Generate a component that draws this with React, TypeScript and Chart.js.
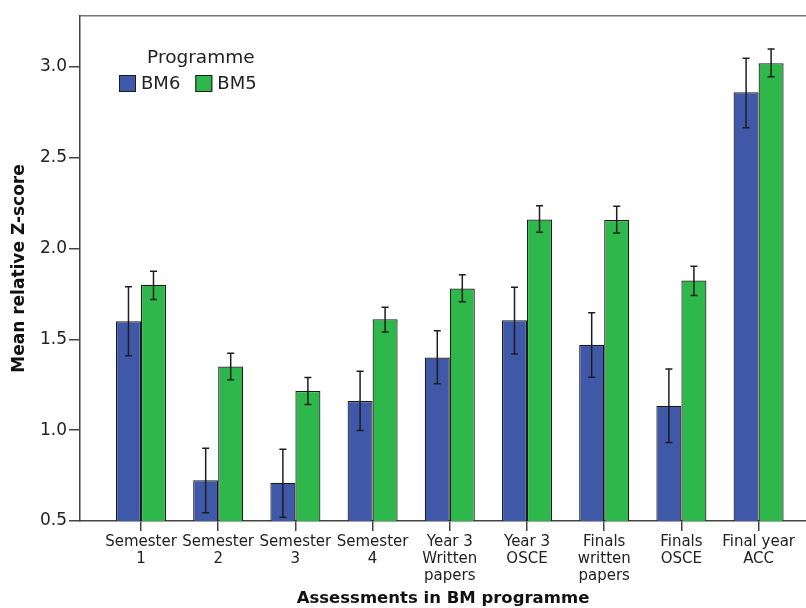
import React, { useEffect, useRef } from "react";
import { Chart, registerables } from "chart.js";

Chart.register(...registerables);

const categories: string[][] = [
  ["Semester", "1"],
  ["Semester", "2"],
  ["Semester", "3"],
  ["Semester", "4"],
  ["Year 3", "Written", "papers"],
  ["Year 3", "OSCE"],
  ["Finals", "written", "papers"],
  ["Finals", "OSCE"],
  ["Final year", "ACC"],
];

const bm6Mean = [1.6, 0.724, 0.71, 1.16, 1.4, 1.605, 1.47, 1.134, 2.86];
const bm6Low = [1.41, 0.546, 0.52, 0.998, 1.255, 1.42, 1.292, 0.932, 2.665];
const bm6High = [1.79, 0.9, 0.895, 1.325, 1.547, 1.787, 1.646, 1.337, 3.048];

const bm5Mean = [1.8, 1.35, 1.216, 1.61, 1.78, 2.16, 2.157, 1.824, 3.02];
const bm5Low = [1.72, 1.277, 1.141, 1.54, 1.707, 2.09, 2.085, 1.742, 2.945];
const bm5High = [1.875, 1.424, 1.29, 1.677, 1.855, 2.236, 2.232, 1.903, 3.099];

const yTicks = [0.5, 1.0, 1.5, 2.0, 2.5, 3.0];

const FONT = "'DejaVu Sans', 'Noto Sans', sans-serif";
const BLUE = "#3f58a8";
const GREEN = "#2eb84b";
const EDGE = "#1c1c1c";

const errorBars = [
  { low: bm6Low, high: bm6High },
  { low: bm5Low, high: bm5High },
];

const errorBarPlugin = {
  id: "errorBars",
  afterDatasetsDraw(chart: any) {
    const ctx = chart.ctx;
    const yScale = chart.scales.y;
    ctx.save();
    ctx.strokeStyle = "#1e1e1e";
    ctx.lineWidth = 1.5;
    chart.data.datasets.forEach((_: any, d: number) => {
      const meta = chart.getDatasetMeta(d);
      const eb = errorBars[d];
      meta.data.forEach((bar: any, i: number) => {
        const x = bar.x;
        const yh = yScale.getPixelForValue(eb.high[i]);
        const yl = yScale.getPixelForValue(eb.low[i]);
        const cap = 3.5;
        ctx.beginPath();
        ctx.moveTo(x, yh);
        ctx.lineTo(x, yl);
        ctx.moveTo(x - cap, yh);
        ctx.lineTo(x + cap, yh);
        ctx.moveTo(x - cap, yl);
        ctx.lineTo(x + cap, yl);
        ctx.stroke();
      });
    });
    ctx.restore();
  },
};

const legendPlugin = {
  id: "innerLegend",
  afterDraw(chart: any) {
    const ctx = chart.ctx;
    const area = chart.chartArea;
    const x0 = area.left + 39;
    const boxTop = area.top + 59;
    const box = 17;
    ctx.save();
    ctx.font = `18px ${FONT}`;
    ctx.textBaseline = "middle";
    ctx.textAlign = "left";
    let x = x0;
    const items = chart.data.datasets.map((ds: any) => ({
      label: ds.label,
      color: ds.backgroundColor,
    }));
    items.forEach((it: any, idx: number) => {
      ctx.fillStyle = it.color;
      ctx.fillRect(x, boxTop, box, box);
      ctx.strokeStyle = EDGE;
      ctx.lineWidth = 1;
      ctx.strokeRect(x + 0.5, boxTop + 0.5, box - 1, box - 1);
      ctx.fillStyle = "#222";
      ctx.fillText(it.label, x + box + 5, boxTop + box / 2 + 1);
      const w = ctx.measureText(it.label).width;
      x += box + 5 + w + (idx < items.length - 1 ? 15 : 0);
    });
    const totalW = x - x0;
    ctx.font = `18.5px ${FONT}`;
    ctx.textAlign = "center";
    ctx.textBaseline = "alphabetic";
    ctx.fillStyle = "#222";
    ctx.fillText("Programme", x0 + totalW / 2 + 13, area.top + 47);
    ctx.restore();
  },
};

export default function App() {
  const canvasRef = useRef<HTMLCanvasElement | null>(null);

  useEffect(() => {
    if (!canvasRef.current) return;
    const chart = new Chart(canvasRef.current, {
      type: "bar",
      data: {
        datasets: [
          {
            label: "BM6",
            data: bm6Mean.map((v, i) => ({ x: i, y: v })),
            backgroundColor: BLUE,
            borderColor: EDGE,
            borderWidth: 1.2,
          },
          {
            label: "BM5",
            data: bm5Mean.map((v, i) => ({ x: i, y: v })),
            backgroundColor: GREEN,
            borderColor: EDGE,
            borderWidth: 1.2,
          },
        ],
      },
      options: {
        animation: false,
        responsive: false,
        layout: { padding: 0 },
        datasets: {
          bar: { categoryPercentage: 0.648, barPercentage: 1.0 },
        },
        plugins: {
          legend: { display: false },
          tooltip: { enabled: false },
        },
        scales: {
          x: {
            type: "linear",
            position: "bottom",
            min: -0.79,
            max: 8.614,
            offset: false,
            afterBuildTicks: (scale: any) => {
              scale.ticks = categories.map((_, i) => ({ value: i }));
            },
            afterFit: (scale: any) => {
              scale.height = 87;
            },
            ticks: {
              autoSkip: false,
              maxRotation: 0,
              minRotation: 0,
              padding: 2,
              color: "#222",
              font: { family: FONT, size: 15, lineHeight: 1.15 },
              callback: (value: any) => categories[Number(value)] ?? "",
            },
            grid: {
              display: true,
              drawOnChartArea: false,
              drawTicks: true,
              tickLength: 10,
              offset: false,
              color: "#444",
              lineWidth: 1.5,
            },
            border: { display: true, color: "#444", width: 1.5 },
            title: {
              display: true,
              text: "Assessments in BM programme",
              color: "#111",
              font: { family: FONT, size: 16.5, weight: "bold", lineHeight: 1 },
              padding: { top: 0, bottom: 1 },
            },
          },
          xTop: {
            type: "linear",
            position: "top",
            min: 0,
            max: 1,
            afterFit: (scale: any) => {
              scale.height = 16;
            },
            ticks: { display: false },
            grid: { display: false, drawTicks: false },
            border: { display: true, color: "#777", width: 1.5 },
          },
          y: {
            type: "linear",
            min: 0.5,
            max: 3.28,
            afterBuildTicks: (scale: any) => {
              scale.ticks = yTicks.map((v) => ({ value: v }));
            },
            afterFit: (scale: any) => {
              scale.width = 80;
            },
            ticks: {
              padding: 2,
              color: "#222",
              font: { family: FONT, size: 17 },
              callback: (value: any) => Number(value).toFixed(1),
            },
            grid: {
              display: true,
              drawOnChartArea: false,
              drawTicks: true,
              tickLength: 11,
              color: "#444",
              lineWidth: 1.5,
            },
            border: { display: true, color: "#444", width: 1.5 },
            title: {
              display: true,
              text: "Mean relative Z-score",
              color: "#111",
              font: { family: FONT, size: 17, weight: "bold", lineHeight: 1.2 },
              padding: { top: 9, bottom: 0 },
            },
          },
        },
      },
      plugins: [errorBarPlugin, legendPlugin],
    } as any);
    return () => chart.destroy();
  }, []);

  return (
    <div
      style={{
        position: "fixed",
        left: 0,
        top: 0,
        width: 806,
        height: 608,
        background: "#fff",
      }}
    >
      <canvas ref={canvasRef} width={806} height={608} style={{ display: "block" }} />
    </div>
  );
}
